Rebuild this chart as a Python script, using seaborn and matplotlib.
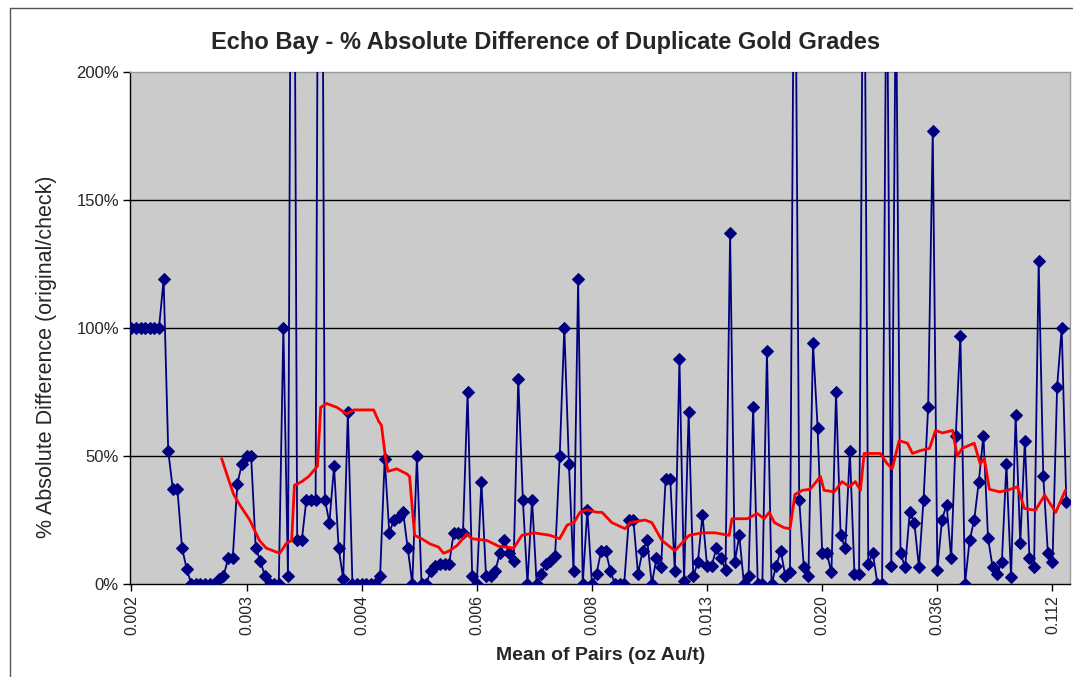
import numpy as np
import pandas as pd
import matplotlib
matplotlib.use("Agg")
import matplotlib.pyplot as plt
import seaborn as sns
from matplotlib.lines import Line2D

# ---- data ----
pct_abs_diff = [
    100, 100, 100, 100, 100, 100, 100, 119, 52, 37,
    37, 14, 6, 0, 0, 0, 0, 0, 0, 2,
    3, 10, 10, 39, 47, 50, 50, 14, 9, 3,
    0, 0, 0, 100, 3, 430, 17, 17, 33, 33,
    33, 470, 33, 24, 46, 14, 2, 67, 0, 0,
    0, 0, 0, 0, 3, 49, 20, 25, 26, 28,
    14, 0, 50, 0, 0, 5, 7, 8, 8, 8,
    20, 20, 20, 75, 3, 0, 40, 3, 3, 5,
    12, 17, 12, 9, 80, 33, 0, 33, 0, 4,
    8, 9, 11, 50, 100, 47, 5, 119, 0, 29,
    0, 4, 13, 13, 5, 0, 0, 0, 25, 25,
    4, 13, 17, 0, 10, 6.5, 41, 41, 5, 88,
    1, 67, 3, 8.5, 27, 7, 7, 14, 10, 5.5,
    137, 8.5, 19, 0, 3, 69, 0, 0, 91, 0,
    7, 13, 3, 4.5, 295, 33, 6.5, 3, 94, 61,
    12, 12, 4.5, 75, 19, 14, 52, 4, 4, 300,
    8, 12, 0, 0, 260, 7, 240, 12, 6.5, 28,
    24, 6.5, 33, 69, 177, 5.5, 25, 31, 10, 58,
    97, 0, 17, 25, 40, 58, 18, 6.5, 4, 8.5,
    47, 2.6, 66, 16, 56, 10, 6.5, 126, 42, 12,
    8.5, 77, 100, 32,
]

# red trend line: positions on the category axis and values (%)
trend_pos = [19.6, 20.7, 22.2, 23.5, 25.7, 27.8, 29.3, 32.2, 33.7, 34.8,
             35.4, 37.0, 38.5, 40.4, 41.1, 42.4, 44.6, 46.7, 48.3, 52.6,
             53.7, 54.3, 55.2, 55.7, 57.6, 59.8, 60.4, 61.5, 63.0, 64.8,
             66.7, 67.8, 69.1, 70.7, 72.8, 73.9, 77.2, 79.8, 81.5, 83.0,
             84.8, 87.4, 90.9, 93.0, 94.6, 96.1, 97.4, 98.9, 101.1, 102.2,
             104.3, 107.2, 108.3, 111.5, 113.0, 115.2, 118.0, 121.1, 123.9, 126.7,
             129.8, 130.4, 133.7, 135.9, 137.4, 138.5, 139.6, 141.7, 143.0, 144.1,
             145.7, 147.4, 149.6, 150.4, 152.6, 154.3, 155.9, 157.2, 158.3, 159.1,
             162.6, 164.1, 165.2, 166.7, 168.5, 169.6, 171.1, 173.3, 174.6, 176.1,
             178.3, 179.3, 180.4, 183.0, 184.3, 185.2, 186.3, 188.5, 190.2, 192.4,
             193.9, 196.3, 198.3, 200.7, 202.8]
trend_val = [49, 43, 35, 31, 25, 17, 14, 12, 16, 17,
             38.6, 40, 42, 46, 69, 70.5, 69, 66.5, 68, 68,
             63.5, 62, 49, 44, 45, 43, 42, 19, 17.7, 15.7,
             14.4, 12, 13, 15, 19.6, 17.7, 17, 14.7, 14.4, 14,
             19, 20, 19, 17.7, 23, 24, 28, 29, 28, 28,
             24, 21.6, 24, 25, 24, 17, 13, 19, 20, 20,
             19, 25.5, 25.5, 27.5, 25.5, 28, 24, 22, 21.6, 35,
             36.6, 37, 42, 36.6, 36, 40, 38, 40, 36.6, 51,
             51, 47, 45, 56, 55, 51, 52, 53, 60, 59,
             60, 50, 53, 55, 47, 49, 37, 36, 36.6, 38,
             29.5, 28.8, 34.7, 28, 36.6]

tick_positions = [0, 25, 50, 75, 100, 125, 150, 175, 200]
tick_labels = ["0.002", "0.003", "0.004", "0.006", "0.008", "0.013", "0.020", "0.036", "0.112"]
y_ticks = [0, 50, 100, 150, 200]
y_tick_labels = ["0%", "50%", "100%", "150%", "200%"]

df = pd.DataFrame({"idx": np.arange(len(pct_abs_diff)), "val": pct_abs_diff})
trend = pd.DataFrame({"pos": trend_pos, "val": trend_val})

sns.set_theme(style="white")
plt.rcParams["font.family"] = ["Liberation Sans", "DejaVu Sans"]

fig = plt.figure(figsize=(10.73, 6.77), dpi=100)
ax = fig.add_axes([130 / 1073, 1 - 584 / 677, 940 / 1073, 512 / 677])
ax.set_facecolor("#CBCBCB")

for yv in [50, 100, 150]:
    ax.axhline(yv, color="black", lw=1.0, zorder=1)

sns.lineplot(data=df, x="idx", y="val", ax=ax, color="#000080", lw=1.3,
             marker="D", markersize=6, markeredgecolor="#000080",
             markerfacecolor="#000080", zorder=3, estimator=None)
sns.lineplot(data=trend, x="pos", y="val", ax=ax, color="#FF0000", lw=2.0,
             zorder=4, estimator=None, sort=False)

ax.set_xlim(-0.3, 203.8)
ax.set_ylim(0, 200)
ax.set_xticks(tick_positions)
ax.set_xticklabels(tick_labels, rotation=90, fontsize=11.5)
ax.set_yticks(y_ticks)
ax.set_yticklabels(y_tick_labels, fontsize=12)
ax.tick_params(axis="both", which="major", direction="out", length=5, width=1,
               color="black", bottom=True, left=True, pad=3)
ax.set_xlabel("")
ax.set_ylabel("")

for side in ["left", "bottom"]:
    ax.spines[side].set_color("black")
    ax.spines[side].set_linewidth(1.0)
for side in ["top", "right"]:
    ax.spines[side].set_color("#9A9A9A")
    ax.spines[side].set_linewidth(1.0)

fig.text(0.508, 0.937, "Echo Bay - % Absolute Difference of Duplicate Gold Grades",
         ha="center", va="center", fontsize=17, fontweight="bold")
fig.text(0.043, 0.473, "% Absolute Difference (original/check)", rotation=90,
         ha="center", va="center", fontsize=15.5)
fig.text(0.560, 0.032, "Mean of Pairs (oz Au/t)", ha="center", va="center",
         fontsize=14, fontweight="bold")

# outer chart frame
fig.add_artist(Line2D([10 / 1073, 1.01], [1 - 8 / 677, 1 - 8 / 677],
                      transform=fig.transFigure, color="#555555", lw=1))
fig.add_artist(Line2D([10 / 1073, 10 / 1073], [-0.01, 1 - 8 / 677],
                      transform=fig.transFigure, color="#555555", lw=1))

fig.savefig("out.png", dpi=100, facecolor="white")
